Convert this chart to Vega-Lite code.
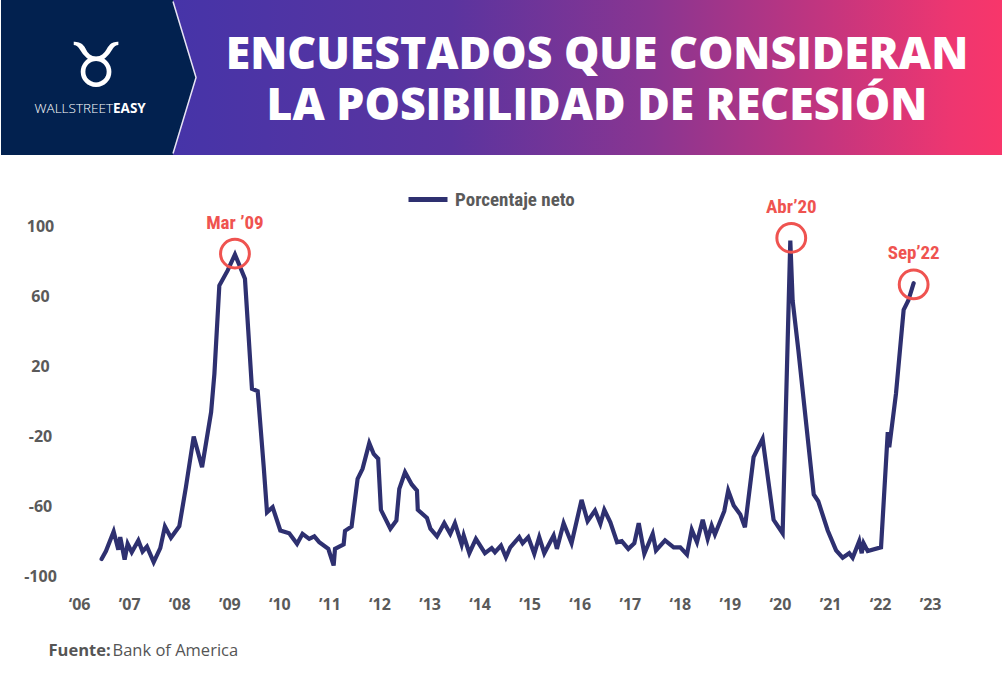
{
  "$schema": "https://vega.github.io/schema/vega-lite/v6.json",
  "padding": 0,
  "spacing": 5,
  "background": "white",
  "config": {"view": {"stroke": null}},
  "datasets": {
    "serie": [
      {"date": "2006-06-14", "value": -90},
      {"date": "2006-07-16", "value": -85.5},
      {"date": "2006-09-10", "value": -74.3},
      {"date": "2006-10-14", "value": -84.7},
      {"date": "2006-10-28", "value": -77.5},
      {"date": "2006-11-29", "value": -90.3},
      {"date": "2006-12-21", "value": -81.3},
      {"date": "2007-01-20", "value": -86.1},
      {"date": "2007-03-09", "value": -79.4},
      {"date": "2007-04-09", "value": -85.7},
      {"date": "2007-05-11", "value": -82.9},
      {"date": "2007-06-29", "value": -91.8},
      {"date": "2007-08-16", "value": -83.8},
      {"date": "2007-09-19", "value": -71.4},
      {"date": "2007-11-02", "value": -77.9},
      {"date": "2008-01-02", "value": -71.3},
      {"date": "2008-02-19", "value": -49},
      {"date": "2008-04-16", "value": -20},
      {"date": "2008-06-16", "value": -37.5},
      {"date": "2008-08-21", "value": -6.1},
      {"date": "2008-09-14", "value": 15.8},
      {"date": "2008-10-20", "value": 66.3},
      {"date": "2008-12-20", "value": 74.9},
      {"date": "2009-02-11", "value": 84},
      {"date": "2009-04-25", "value": 70.1},
      {"date": "2009-05-19", "value": 40.6},
      {"date": "2009-06-15", "value": 7.3},
      {"date": "2009-07-27", "value": 5.9},
      {"date": "2009-09-09", "value": -37.5},
      {"date": "2009-10-03", "value": -63.3},
      {"date": "2009-11-13", "value": -60.4},
      {"date": "2010-01-08", "value": -73.7},
      {"date": "2010-03-14", "value": -75.3},
      {"date": "2010-05-10", "value": -81.3},
      {"date": "2010-06-19", "value": -75.6},
      {"date": "2010-08-07", "value": -78.5},
      {"date": "2010-09-13", "value": -77.1},
      {"date": "2010-10-19", "value": -80.4},
      {"date": "2010-12-24", "value": -84.2},
      {"date": "2011-02-01", "value": -93.7},
      {"date": "2011-02-11", "value": -84.2},
      {"date": "2011-04-15", "value": -81.7},
      {"date": "2011-04-25", "value": -73.9},
      {"date": "2011-06-12", "value": -71.4},
      {"date": "2011-07-26", "value": -44.2},
      {"date": "2011-08-31", "value": -38.5},
      {"date": "2011-10-19", "value": -23.8},
      {"date": "2011-11-20", "value": -29.9},
      {"date": "2011-12-23", "value": -32.7},
      {"date": "2012-01-12", "value": -61.9},
      {"date": "2012-03-21", "value": -72.7},
      {"date": "2012-05-04", "value": -68},
      {"date": "2012-05-25", "value": -49.9},
      {"date": "2012-07-06", "value": -40.4},
      {"date": "2012-08-24", "value": -47.4},
      {"date": "2012-10-01", "value": -50.9},
      {"date": "2012-10-07", "value": -61.9},
      {"date": "2012-12-13", "value": -66.5},
      {"date": "2013-01-07", "value": -72.7},
      {"date": "2013-02-24", "value": -77.1},
      {"date": "2013-04-18", "value": -69.5},
      {"date": "2013-06-01", "value": -75.6},
      {"date": "2013-07-05", "value": -69.5},
      {"date": "2013-08-23", "value": -81.7},
      {"date": "2013-09-07", "value": -76.6},
      {"date": "2013-10-18", "value": -86.7},
      {"date": "2013-12-05", "value": -78.5},
      {"date": "2014-02-09", "value": -86.7},
      {"date": "2014-03-30", "value": -83.8},
      {"date": "2014-04-23", "value": -86.1},
      {"date": "2014-06-06", "value": -82.3},
      {"date": "2014-07-12", "value": -89},
      {"date": "2014-08-13", "value": -83.3},
      {"date": "2014-10-17", "value": -77.5},
      {"date": "2014-11-11", "value": -81},
      {"date": "2014-12-22", "value": -77.5},
      {"date": "2015-02-04", "value": -87},
      {"date": "2015-03-12", "value": -77.5},
      {"date": "2015-04-18", "value": -86.7},
      {"date": "2015-06-25", "value": -76.6},
      {"date": "2015-07-19", "value": -84.2},
      {"date": "2015-09-06", "value": -69.5},
      {"date": "2015-11-03", "value": -81},
      {"date": "2016-01-15", "value": -56.2},
      {"date": "2016-02-28", "value": -68.4},
      {"date": "2016-04-22", "value": -62.3},
      {"date": "2016-05-31", "value": -69.9},
      {"date": "2016-06-29", "value": -61.9},
      {"date": "2016-08-12", "value": -69},
      {"date": "2016-09-30", "value": -80.4},
      {"date": "2016-11-03", "value": -79.8},
      {"date": "2016-12-21", "value": -84.2},
      {"date": "2017-02-03", "value": -81},
      {"date": "2017-03-07", "value": -69.5},
      {"date": "2017-04-17", "value": -87},
      {"date": "2017-06-17", "value": -75.6},
      {"date": "2017-07-11", "value": -85.1},
      {"date": "2017-09-15", "value": -79.4},
      {"date": "2017-11-17", "value": -83.3},
      {"date": "2018-01-04", "value": -83.3},
      {"date": "2018-02-22", "value": -87.4},
      {"date": "2018-03-29", "value": -73.3},
      {"date": "2018-05-06", "value": -80.4},
      {"date": "2018-06-17", "value": -67.6},
      {"date": "2018-07-23", "value": -78.5},
      {"date": "2018-08-21", "value": -70.9},
      {"date": "2018-09-14", "value": -76},
      {"date": "2018-11-21", "value": -62.7},
      {"date": "2018-12-20", "value": -50.9},
      {"date": "2019-01-29", "value": -59.4},
      {"date": "2019-03-18", "value": -64.6},
      {"date": "2019-04-21", "value": -71.8},
      {"date": "2019-06-23", "value": -31.8},
      {"date": "2019-08-28", "value": -21.3},
      {"date": "2019-11-16", "value": -67.6},
      {"date": "2020-01-21", "value": -75.3},
      {"date": "2020-03-17", "value": 92},
      {"date": "2020-04-03", "value": 57.7},
      {"date": "2020-05-15", "value": 29.1},
      {"date": "2020-09-04", "value": -53.1},
      {"date": "2020-10-07", "value": -57},
      {"date": "2020-12-15", "value": -73.7},
      {"date": "2021-02-14", "value": -85.1},
      {"date": "2021-04-03", "value": -89.3},
      {"date": "2021-05-21", "value": -86.7},
      {"date": "2021-06-15", "value": -89.3},
      {"date": "2021-08-02", "value": -79.8},
      {"date": "2021-08-20", "value": -86.7},
      {"date": "2021-09-03", "value": -81},
      {"date": "2021-10-03", "value": -85.5},
      {"date": "2022-01-08", "value": -83.3},
      {"date": "2022-02-26", "value": -17.5},
      {"date": "2022-03-09", "value": -26.1},
      {"date": "2022-04-27", "value": 4.4},
      {"date": "2022-06-22", "value": 52.4},
      {"date": "2022-07-26", "value": 57.7},
      {"date": "2022-09-03", "value": 67.6}
    ],
    "hitos": [
      {"date": "2009-02-11", "value": 84.5, "label": "Mar ’09"},
      {"date": "2020-03-24", "value": 93.5, "label": "Abr’20"},
      {"date": "2022-09-03", "value": 66.9, "label": "Sep’22"}
    ]
  },
  "vconcat": [
    {
      "width": 1002,
      "height": 155,
      "layer": [
        {
          "data": {"values": [{}]},
          "mark": {
            "type": "rect",
            "fill": {
              "gradient": "linear",
              "x1": 0, "y1": 0, "x2": 1, "y2": 0,
              "stops": [
                {"offset": 0, "color": "#02214f"},
                {"offset": 0.1716, "color": "#02214f"},
                {"offset": 0.1718, "color": "#4634a8"},
                {"offset": 0.45, "color": "#5b349f"},
                {"offset": 0.65, "color": "#8a3591"},
                {"offset": 0.82, "color": "#c2357f"},
                {"offset": 0.95, "color": "#ee3670"},
                {"offset": 1, "color": "#f8366a"}
              ]
            }
          },
          "encoding": {}
        },
        {
          "data": {"values": [{"pieza": "chevron"}]},
          "mark": {"type": "point", "shape": "M-4.245,-0.98L-3.948,0L-4.245,0.98", "size": 24025, "filled": true, "fill": "#02214f", "fillOpacity": 1, "stroke": "#e8e4f4", "strokeWidth": 1.5, "strokeJoin": "round", "opacity": 1},
          "encoding": {}
        },
        {
          "data": {"values": [
            {"line": 1, "text": "ENCUESTADOS QUE CONSIDERAN"},
            {"line": 2, "text": "LA POSIBILIDAD DE RECESIÓN"}
          ]},
          "mark": {"type": "text", "color": "white", "font": "Open Sans", "fontWeight": 800, "fontSize": 44.5, "align": "center", "baseline": "alphabetic", "dx": 95, "dy": 17},
          "encoding": {
            "y": {"field": "line", "type": "ordinal", "axis": null, "scale": {"type": "point", "padding": 1.1}},
            "text": {"field": "text"}
          }
        },
        {
          "data": {"values": [{"logo": "♉"}]},
          "mark": {"type": "text", "color": "white", "font": "DejaVu Sans", "fontSize": 62, "align": "center", "baseline": "middle", "dx": -406, "dy": -10},
          "encoding": {"text": {"field": "logo"}}
        },
        {
          "data": {"values": [{"marca": "WALLSTREET"}]},
          "mark": {"type": "text", "color": "white", "font": "Open Sans", "fontWeight": 300, "fontSize": 13.5, "align": "right", "baseline": "alphabetic", "dx": -389, "dy": 35},
          "encoding": {"text": {"field": "marca"}}
        },
        {
          "data": {"values": [{"marca": "EASY"}]},
          "mark": {"type": "text", "color": "white", "font": "Open Sans", "fontWeight": "bold", "fontSize": 13.5, "align": "left", "baseline": "alphabetic", "dx": -389, "dy": 35},
          "encoding": {"text": {"field": "marca"}}
        }
      ]
    },
    {
      "width": 972,
      "height": 434,
      "layer": [
        {
          "data": {"values": [{}]},
          "mark": {"type": "rule", "color": "#6b6b6b", "strokeWidth": 1.5},
          "encoding": {
            "x": {"datum": "2005-08-14", "type": "temporal"},
            "x2": {"datum": "2023-11-10"},
            "y": {"datum": 0, "type": "quantitative"}
          }
        },
        {
          "data": {"name": "serie"},
          "mark": {"type": "line", "strokeWidth": 4.2, "strokeCap": "round"},
          "encoding": {
            "x": {
              "field": "date",
              "type": "temporal",
              "scale": {"domain": ["2004-06-10", "2023-11-10"]},
              "axis": {
                "values": [
                  {"year": 2006}, {"year": 2007}, {"year": 2008}, {"year": 2009}, {"year": 2010}, {"year": 2011},
                  {"year": 2012}, {"year": 2013}, {"year": 2014}, {"year": 2015}, {"year": 2016}, {"year": 2017},
                  {"year": 2018}, {"year": 2019}, {"year": 2020}, {"year": 2021}, {"year": 2022}, {"year": 2023}
                ],
                "labelExpr": "(year(datum.value) % 2 == 0 ? '‘' : '’') + timeFormat(datum.value, '%y')",
                "domain": false,
                "ticks": false,
                "grid": false,
                "labelOverlap": false,
                "labelFlush": false,
                "labelPadding": 2,
                "labelFont": "Open Sans",
                "labelFontWeight": "bold",
                "labelFontSize": 16,
                "labelColor": "#5a5a5a",
                "title": "Bank of America",
                "titleX": 111,
                "titleY": 61,
                "titleAlign": "left",
                "titleBaseline": "alphabetic",
                "titleFont": "Open Sans",
                "titleFontWeight": "normal",
                "titleFontSize": 16.5,
                "titleColor": "#555555"
              }
            },
            "y": {
              "field": "value",
              "type": "quantitative",
              "scale": {"domain": [-110, 138], "nice": false, "zero": false},
              "axis": {
                "values": [-100, -60, -20, 20, 60, 100],
                "labelExpr": "datum.value < 0 ? '-' + abs(datum.value) : '' + datum.value",
                "domain": false,
                "ticks": false,
                "grid": false,
                "minExtent": 0,
                "maxExtent": 0,
                "labelAlign": "center",
                "labelPadding": -39,
                "labelFont": "Open Sans",
                "labelFontWeight": "bold",
                "labelFontSize": 16,
                "labelColor": "#5a5a5a",
                "title": "Fuente:",
                "titleAngle": 0,
                "titleX": 47,
                "titleY": 495,
                "titleAlign": "left",
                "titleBaseline": "alphabetic",
                "titleFont": "Open Sans",
                "titleFontWeight": "bold",
                "titleFontSize": 16.5,
                "titleColor": "#555555"
              }
            },
            "color": {
              "datum": "Porcentaje neto",
              "scale": {"range": ["#2e3070"]},
              "legend": {
                "title": null,
                "orient": "none",
                "legendX": 405,
                "legendY": 177.5,
                "padding": 0,
                "symbolType": "stroke",
                "symbolSize": 1521,
                "symbolStrokeWidth": 5,
                "labelOffset": 5,
                "labelFont": "Roboto Condensed, Roboto",
                "labelFontWeight": "bold",
                "labelFontSize": 19,
                "labelColor": "#5a5a5a"
              }
            }
          }
        },
        {
          "data": {"name": "hitos"},
          "mark": {"type": "point", "shape": "circle", "filled": false, "size": 830, "stroke": "#ef5350", "strokeWidth": 3, "opacity": 1},
          "encoding": {
            "x": {"field": "date", "type": "temporal"},
            "y": {"field": "value", "type": "quantitative"}
          }
        },
        {
          "data": {"name": "hitos"},
          "mark": {"type": "text", "color": "#ef5350", "font": "Roboto Condensed, Roboto", "fontWeight": "bold", "fontSize": 19, "align": "center", "baseline": "alphabetic", "dy": -25},
          "encoding": {
            "x": {"field": "date", "type": "temporal"},
            "y": {"field": "value", "type": "quantitative"},
            "text": {"field": "label"}
          }
        }
      ]
    }
  ]
}
